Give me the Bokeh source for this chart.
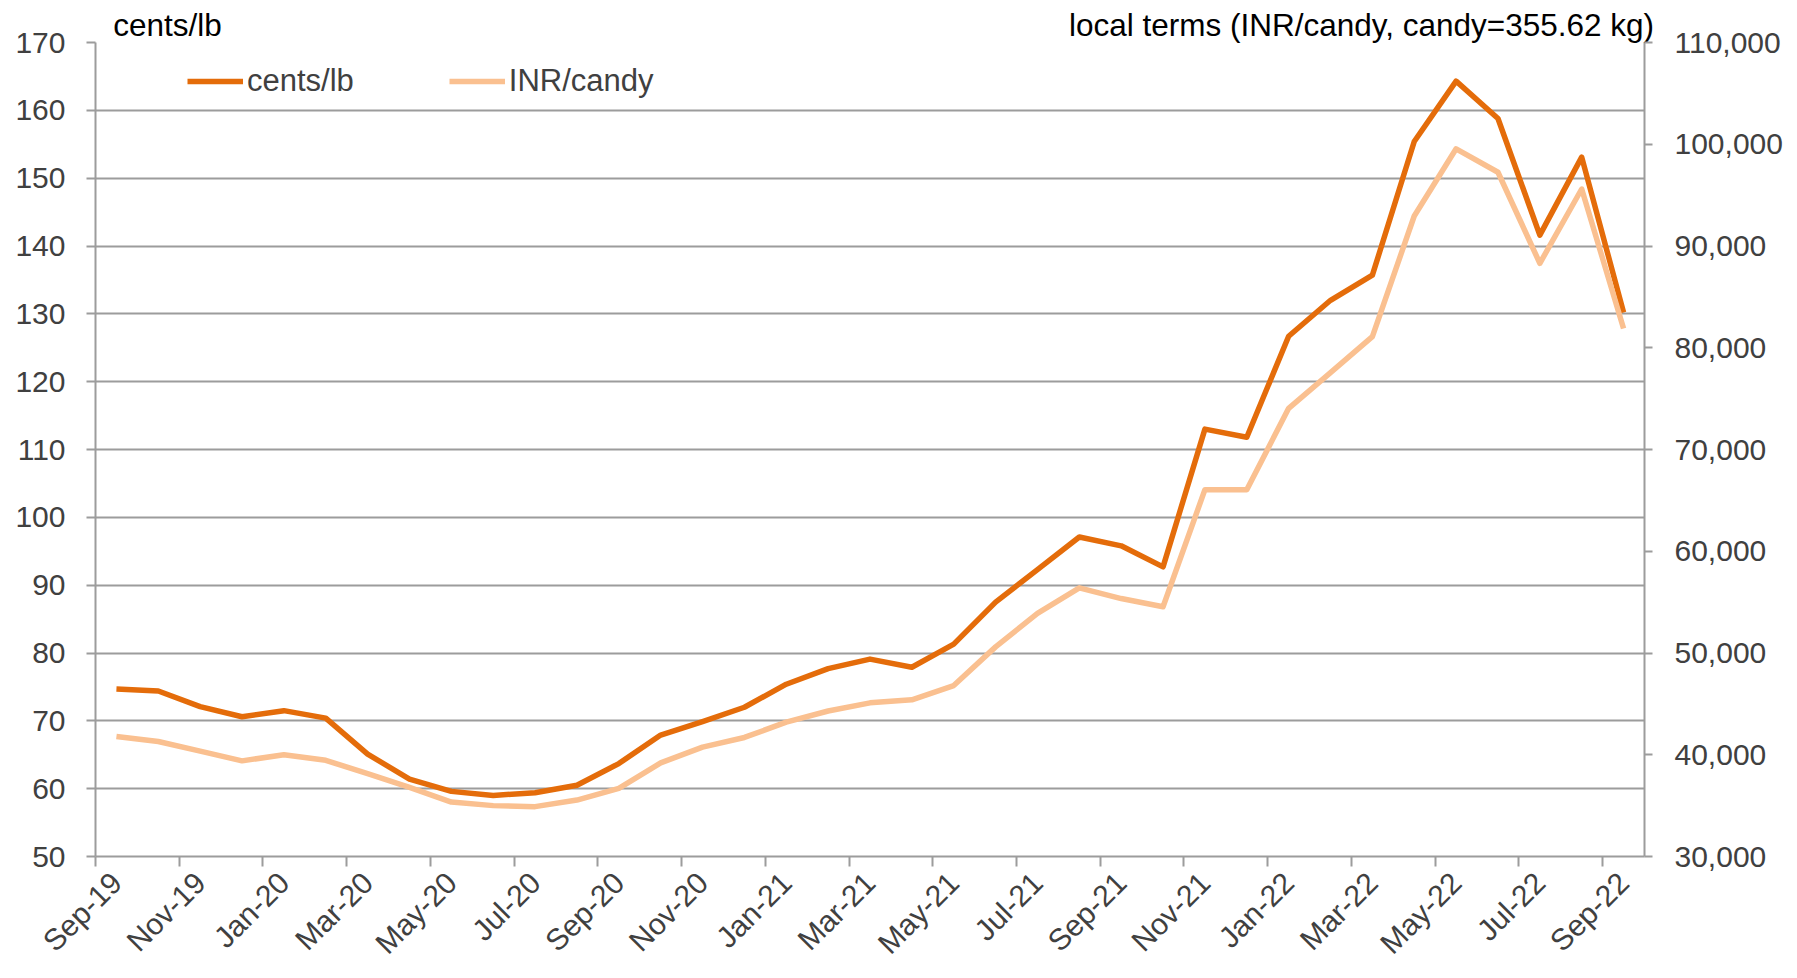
import math
from bokeh.plotting import figure
from bokeh.models import (Range1d, LinearAxis, FixedTicker, NumeralTickFormatter,
                          Legend, LegendItem)
from bokeh.embed import file_html
from bokeh.resources import INLINE

# ---------------- data ----------------
months = ["Sep-19", "Oct-19", "Nov-19", "Dec-19", "Jan-20", "Feb-20", "Mar-20", "Apr-20",
          "May-20", "Jun-20", "Jul-20", "Aug-20", "Sep-20", "Oct-20", "Nov-20", "Dec-20",
          "Jan-21", "Feb-21", "Mar-21", "Apr-21", "May-21", "Jun-21", "Jul-21", "Aug-21",
          "Sep-21", "Oct-21", "Nov-21", "Dec-21", "Jan-22", "Feb-22", "Mar-22", "Apr-22",
          "May-22", "Jun-22", "Jul-22", "Aug-22", "Sep-22"]

cents_lb = [74.7, 74.4, 72.1, 70.6, 71.5, 70.4, 65.1, 61.4, 59.6, 59.0, 59.4, 60.5,
            63.7, 67.9, 69.9, 72.0, 75.4, 77.7, 79.1, 77.9, 81.3, 87.5, 92.3, 97.1,
            95.8, 92.7, 113.0, 111.8, 126.7, 132.0, 135.7, 155.4, 164.3, 158.8, 141.6,
            153.1, 130.2]

inr_candy = [41800, 41300, 40350, 39400, 40000, 39450, 38150, 36800, 35350, 35000,
             34900, 35550, 36700, 39200, 40750, 41700, 43200, 44300, 45100, 45400,
             46800, 50600, 53900, 56400, 55350, 54550, 66050, 66050, 74050, 77550,
             81100, 92950, 99550, 97250, 88300, 95600, 81900]

left_ticks = list(range(50, 171, 10))
right_ticks = list(range(30000, 110001, 10000))

left_title = "cents/lb"
right_title = "local terms (INR/candy, candy=355.62 kg)"

# ---------------- styling ----------------
FONT = "Liberation Sans"
TICK_COLOR = "#404040"
GRID = "#9c9c9c"
DARK = "#E46C0A"
LIGHT = "#FAC090"
FS = "30px"
FRAME_W = 1549

x = list(range(len(months)))

p = figure(width=1789, height=976, output_backend="svg", toolbar_location=None,
           x_range=Range1d(-0.5, len(months) - 0.5), y_range=Range1d(50, 170),
           min_border_left=95, min_border_right=145, min_border_top=42,
           min_border_bottom=120, background_fill_color="white",
           border_fill_color="white", outline_line_color=None, y_axis_location=None)
p.extra_y_ranges = {"inr": Range1d(30000, 110000)}
p.extra_x_ranges = {"px": Range1d(0, FRAME_W)}

# x axis (bottom)
label_idx = list(range(0, len(months), 2))
xa = p.below[0]
xa.ticker = FixedTicker(ticks=label_idx, minor_ticks=[i - 0.5 for i in label_idx])
xa.major_label_overrides = {i: months[i] for i in label_idx}
xa.major_label_orientation = math.pi / 4
xa.major_tick_line_color = None
xa.major_tick_out = 0
xa.major_tick_in = 0
xa.minor_tick_line_color = GRID
xa.minor_tick_line_width = 2
xa.minor_tick_out = 10
xa.minor_tick_in = 0
xa.axis_line_color = GRID
xa.axis_line_width = 2
xa.major_label_standoff = 11
xa.major_label_text_font = FONT
xa.major_label_text_font_size = FS
xa.major_label_text_color = TICK_COLOR

# left axis
yl = LinearAxis(ticker=FixedTicker(ticks=left_ticks))
yl.axis_line_color = GRID
yl.axis_line_width = 2
yl.major_tick_line_color = GRID
yl.major_tick_line_width = 2
yl.major_tick_out = 9
yl.major_tick_in = 0
yl.minor_tick_line_color = None
yl.major_label_standoff = 21
yl.major_label_text_font = FONT
yl.major_label_text_font_size = FS
yl.major_label_text_color = TICK_COLOR
p.add_layout(yl, "left")

# right axis
yr = LinearAxis(y_range_name="inr", ticker=FixedTicker(ticks=right_ticks),
                formatter=NumeralTickFormatter(format="0,0"))
yr.axis_line_color = GRID
yr.axis_line_width = 2
yr.major_tick_line_color = GRID
yr.major_tick_line_width = 2
yr.major_tick_out = 8
yr.major_tick_in = 0
yr.minor_tick_line_color = None
yr.major_label_standoff = 22
yr.major_label_text_font = FONT
yr.major_label_text_font_size = FS
yr.major_label_text_color = TICK_COLOR
p.add_layout(yr, "right")

# top "axis" carrying the two unit titles
title_pos = {72: left_title, 1266: right_title}
ta = LinearAxis(x_range_name="px", ticker=FixedTicker(ticks=list(title_pos.keys())))
ta.major_label_overrides = title_pos
ta.axis_line_color = None
ta.major_tick_line_color = None
ta.minor_tick_line_color = None
ta.major_tick_out = 0
ta.major_tick_in = 0
ta.major_label_standoff = 0
ta.major_label_text_font = FONT
ta.major_label_text_font_size = "31.5px"
ta.major_label_text_color = "black"
p.add_layout(ta, "above")

p.xgrid.grid_line_color = None
p.ygrid.grid_line_color = GRID
p.ygrid.grid_line_width = 2
p.ygrid.ticker = FixedTicker(ticks=left_ticks)

r1 = p.line(x, cents_lb, line_color=DARK, line_width=5.5, line_join="round")
r2 = p.line(x, inr_candy, y_range_name="inr", line_color=LIGHT, line_width=5.5,
            line_join="round")

legend = Legend(items=[LegendItem(label="cents/lb", renderers=[r1]),
                       LegendItem(label="INR/candy", renderers=[r2])],
                orientation="horizontal", location=(92, 755),
                padding=0, margin=0, spacing=95, glyph_width=56, glyph_height=40,
                label_height=40, label_standoff=4, border_line_color=None,
                background_fill_alpha=0, label_text_font=FONT,
                label_text_font_size="31px", label_text_color=TICK_COLOR)
p.add_layout(legend, "center")

open("out.html", "w").write(file_html(p, INLINE))
